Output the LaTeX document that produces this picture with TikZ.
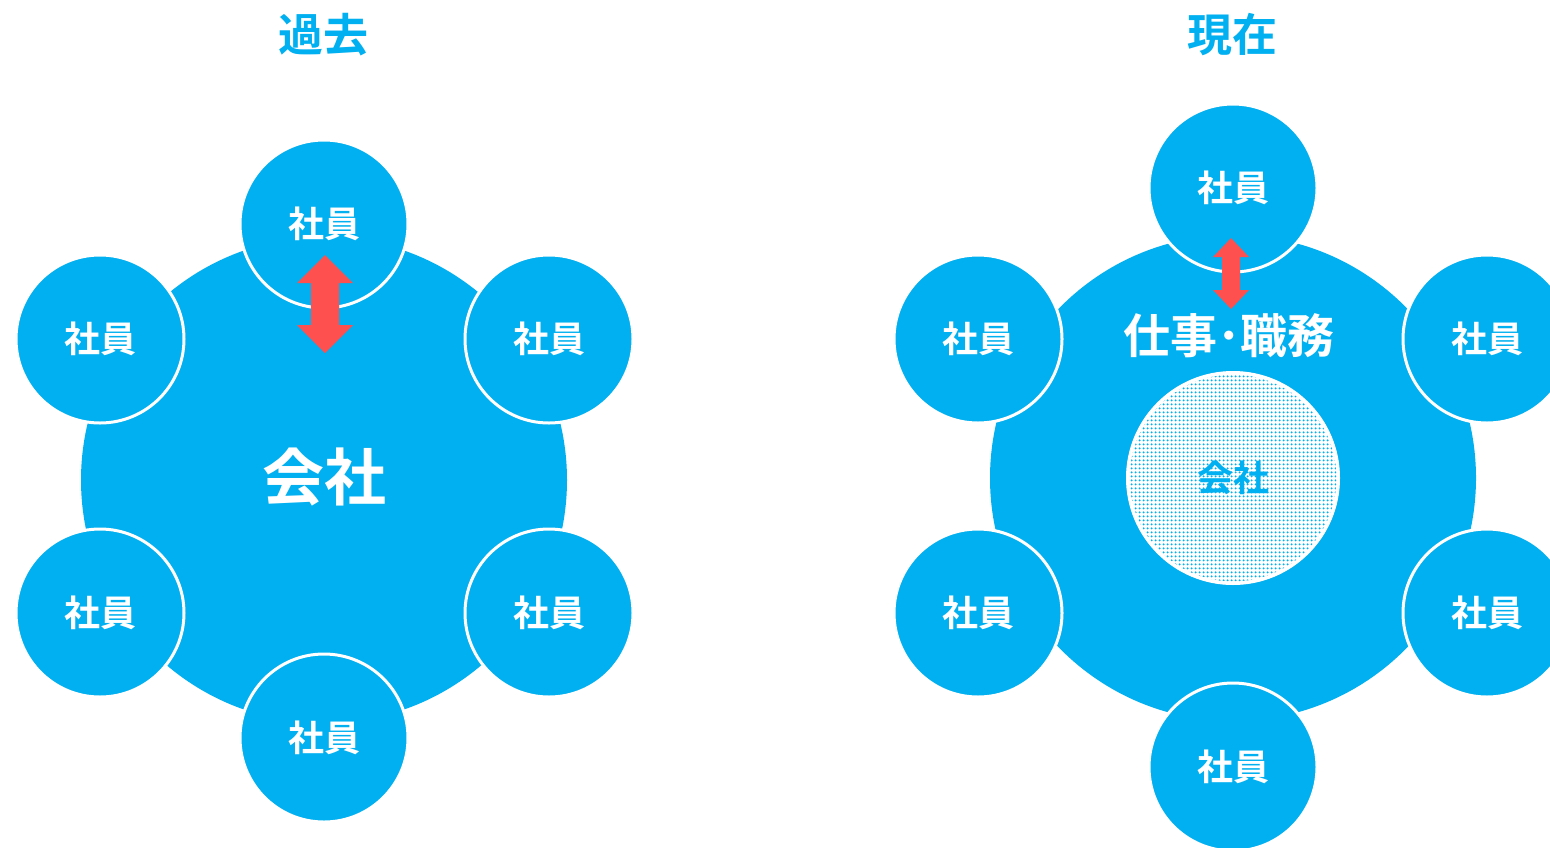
\documentclass[tikz,border=0pt]{standalone}
\usepackage{fontspec}
\setmainfont{Noto Sans CJK JP}[BoldFont={Noto Sans CJK JP Bold}]
\usetikzlibrary{patterns.meta}
\definecolor{cblue}{HTML}{00B0F0}
\definecolor{cred}{HTML}{FF5050}
\newcommand{\dblarrowshape}[6]{% cx, top, bottom, shaft half, head half, head length
  \fill[cred] (#1,#2) -- (#1+#5,#2+#6) -- (#1+#4,#2+#6) -- (#1+#4,#3-#6) -- (#1+#5,#3-#6)
    -- (#1,#3) -- (#1-#5,#3-#6) -- (#1-#4,#3-#6) -- (#1-#4,#2+#6) -- (#1-#5,#2+#6) -- cycle;}
\begin{document}
\begin{tikzpicture}[x=1pt,y=-1pt,
  big/.style={circle, fill=cblue, inner sep=0pt, minimum size=486pt},
  emp/.style={circle, fill=cblue, draw=white, line width=3pt, inner sep=0pt,
    minimum size=168pt, text=white, font=\bfseries\fontsize{36}{36}\selectfont},
  title/.style={text=cblue, font=\bfseries\fontsize{45}{45}\selectfont, inner sep=0pt},
  bigtext/.style={text=white, font=\bfseries\fontsize{62}{62}\selectfont, inner sep=0pt},
  jobtext/.style={text=white, font=\bfseries\fontsize{47}{47}\selectfont, inner sep=0pt},
  inner/.style={circle, fill=white, draw=white, line width=3pt, inner sep=0pt,
    minimum size=210pt, pattern={Dots[distance=4pt, radius=1.3pt]}, pattern color=cblue},
  innertext/.style={text=cblue, font=\bfseries\fontsize{36}{36}\selectfont, inner sep=0pt}]
\useasboundingbox (0,0) rectangle (1550,847);
\clip (0,0) rectangle (1550,847);
\fill[white] (0,0) rectangle (1550,847);

% ---------- left: past ----------
\node[title] (tl) at (323,35) {過去};
\node[big] (cl) at (324,480) {};
\node[bigtext] (cltext) at (324,477) {会社};
\node[emp] (l1) at (324,224) {社員};
\node[emp] (l2) at (100,339) {社員};
\node[emp] (l3) at (549,339) {社員};
\node[emp] (l4) at (100,613) {社員};
\node[emp] (l5) at (549,613) {社員};
\node[emp] (l6) at (324,738) {社員};
\dblarrowshape{325}{255}{353}{14}{28}{28}

% ---------- right: present ----------
\node[title] (tr) at (1232,35) {現在};
\node[big] (cr) at (1233,478) {};
\fill[white] (1233,478) circle (107);
\node[inner] (ci) at (1233,478) {};
\node[innertext] (citext) at (1233,478) {会社};
\node[jobtext] (job) at (1229,336) {仕事･職務};
\node[emp] (r1) at (1233,188) {社員};
\node[emp] (r2) at (978,339) {社員};
\node[emp] (r3) at (1487,339) {社員};
\node[emp] (r4) at (978,613) {社員};
\node[emp] (r5) at (1487,613) {社員};
\node[emp] (r6) at (1233,767) {社員};
\dblarrowshape{1231}{238}{309}{9}{18}{19}
\end{tikzpicture}
\end{document}
